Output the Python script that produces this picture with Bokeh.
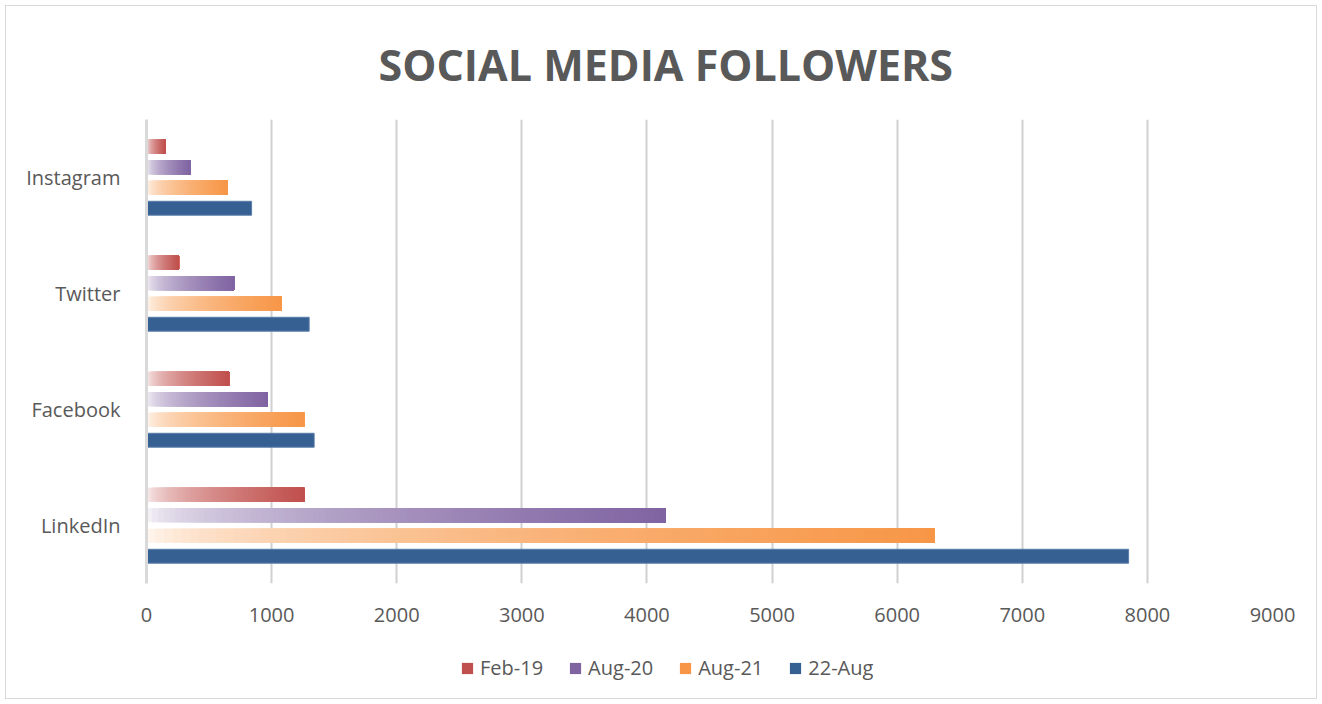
import numpy as np
from bokeh.plotting import figure
from bokeh.layouts import column
from bokeh.models import ColumnDataSource, FactorRange, Range1d, Legend, LegendItem, FixedTicker
from bokeh.transform import dodge
from bokeh.embed import file_html
from bokeh.resources import INLINE

# ---------------- data ----------------
platforms = ["LinkedIn", "Facebook", "Twitter", "Instagram"]
series_names = ["Feb-19", "Aug-20", "Aug-21", "22-Aug"]
feb19 = [1260, 660, 260, 150]
aug20 = [4150, 970, 700, 350]
aug21 = [6300, 1260, 1080, 650]
aug22 = [7850, 1340, 1300, 840]
x_ticks = [0, 1000, 2000, 3000, 4000, 5000, 6000, 7000, 8000, 9000]
title_text = "SOCIAL MEDIA FOLLOWERS"

# ---------------- style ----------------
colors = ["#C0504D", "#8064A2", "#F79646", "#376092"]
offsets = [0.265, 0.088, -0.088, -0.265]
gradient = [True, True, True, False]
BAR_H = 0.12
N_STEPS = 90
TXT = "#595959"
FONT = "Open Sans"

p = figure(frame_width=1126, frame_height=464,
           y_range=FactorRange(factors=platforms, range_padding=0),
           x_range=Range1d(0, 9000),
           output_backend="svg", toolbar_location=None,
           min_border_left=140, min_border_right=44,
           min_border_top=100, min_border_bottom=57)

def mix(hexc, m):
    h = hexc.lstrip("#")
    rgb = [int(h[i:i + 2], 16) for i in (0, 2, 4)]
    out = [round(255 - m * (255 - c)) for c in rgb]
    return "#%02x%02x%02x" % tuple(out)

all_series = [feb19, aug20, aug21, aug22]
for name, vals, col, off, grad in zip(series_names, all_series, colors, offsets, gradient):
    if grad:
        plat, left, right, cols = [], [], [], []
        for k in range(N_STEPS):
            t = (k + 0.5) / N_STEPS
            c = mix(col, 0.03 + 0.97 * np.sqrt(t))
            for pl, v in zip(platforms, vals):
                plat.append(pl)
                left.append(v * k / N_STEPS)
                right.append(v)
                cols.append(c)
        src = ColumnDataSource(dict(platform=plat, left=left, right=right, color=cols))
        p.hbar(y=dodge("platform", off, range=p.y_range), left="left", right="right",
               height=BAR_H, fill_color="color", line_color=None, source=src)
    else:
        src = ColumnDataSource(dict(platform=platforms, right=vals))
        p.hbar(y=dodge("platform", off, range=p.y_range), left=0, right="right",
               height=BAR_H, fill_color=col, line_color="#5A7DAA", line_width=1, source=src)

# axes
p.xaxis.ticker = FixedTicker(ticks=x_ticks)
p.xaxis.axis_line_color = None
p.xaxis.major_tick_line_color = None
p.xaxis.minor_tick_line_color = None
p.xaxis.major_label_text_font_size = "20px"
p.xaxis.major_label_text_color = TXT
p.xaxis.major_label_text_font = FONT
p.xaxis.major_label_standoff = 18

p.yaxis.axis_line_color = "#D9D9D9"
p.yaxis.axis_line_width = 3
p.yaxis.major_tick_line_color = None
p.yaxis.minor_tick_line_color = None
p.yaxis.major_label_text_font_size = "20px"
p.yaxis.major_label_text_color = TXT
p.yaxis.major_label_text_font = FONT
p.yaxis.major_label_standoff = 20

p.xgrid.grid_line_color = "#D0D0D0"
p.xgrid.grid_line_width = 2
p.ygrid.grid_line_color = None
p.outline_line_color = None

# title
p.title.text = title_text
p.title.text_font = FONT
p.title.text_font_size = "43px"
p.title.text_font_style = "bold"
p.title.text_color = TXT
p.title.align = "left"
p.title.offset = 232
p.title.standoff = 52

# ---------------- legend strip ----------------
lg = figure(width=1310, height=58, x_range=Range1d(0, 1), y_range=Range1d(0, 1),
            x_axis_type=None, y_axis_type=None,
            output_backend="svg", toolbar_location=None,
            min_border=0, min_border_left=0, min_border_right=0,
            min_border_top=0, min_border_bottom=0)
lg.grid.visible = False
lg.outline_line_color = None
items = []
for name, col in zip(series_names, colors):
    hidden = ColumnDataSource(dict(y=[-5], l=[0], r=[0.1]))
    rr = lg.hbar(y="y", left="l", right="r", height=0.5, fill_color=col,
                 line_color=None, source=hidden)
    items.append(LegendItem(label=name, renderers=[rr]))
legend = Legend(items=items, orientation="horizontal", location=(314, 17),
                label_text_font=FONT, label_text_font_size="20px", label_text_color=TXT,
                label_height=20,
                glyph_width=14, glyph_height=14, label_standoff=6, spacing=25,
                border_line_color=None, background_fill_alpha=0, padding=4, margin=0)
lg.add_layout(legend, "center")

layout = column(p, lg, spacing=0)
layout.styles = {"border": "1px solid #D9D9D9", "margin-left": "5px", "margin-top": "5px"}

open("out.html", "w").write(file_html(layout, INLINE))
